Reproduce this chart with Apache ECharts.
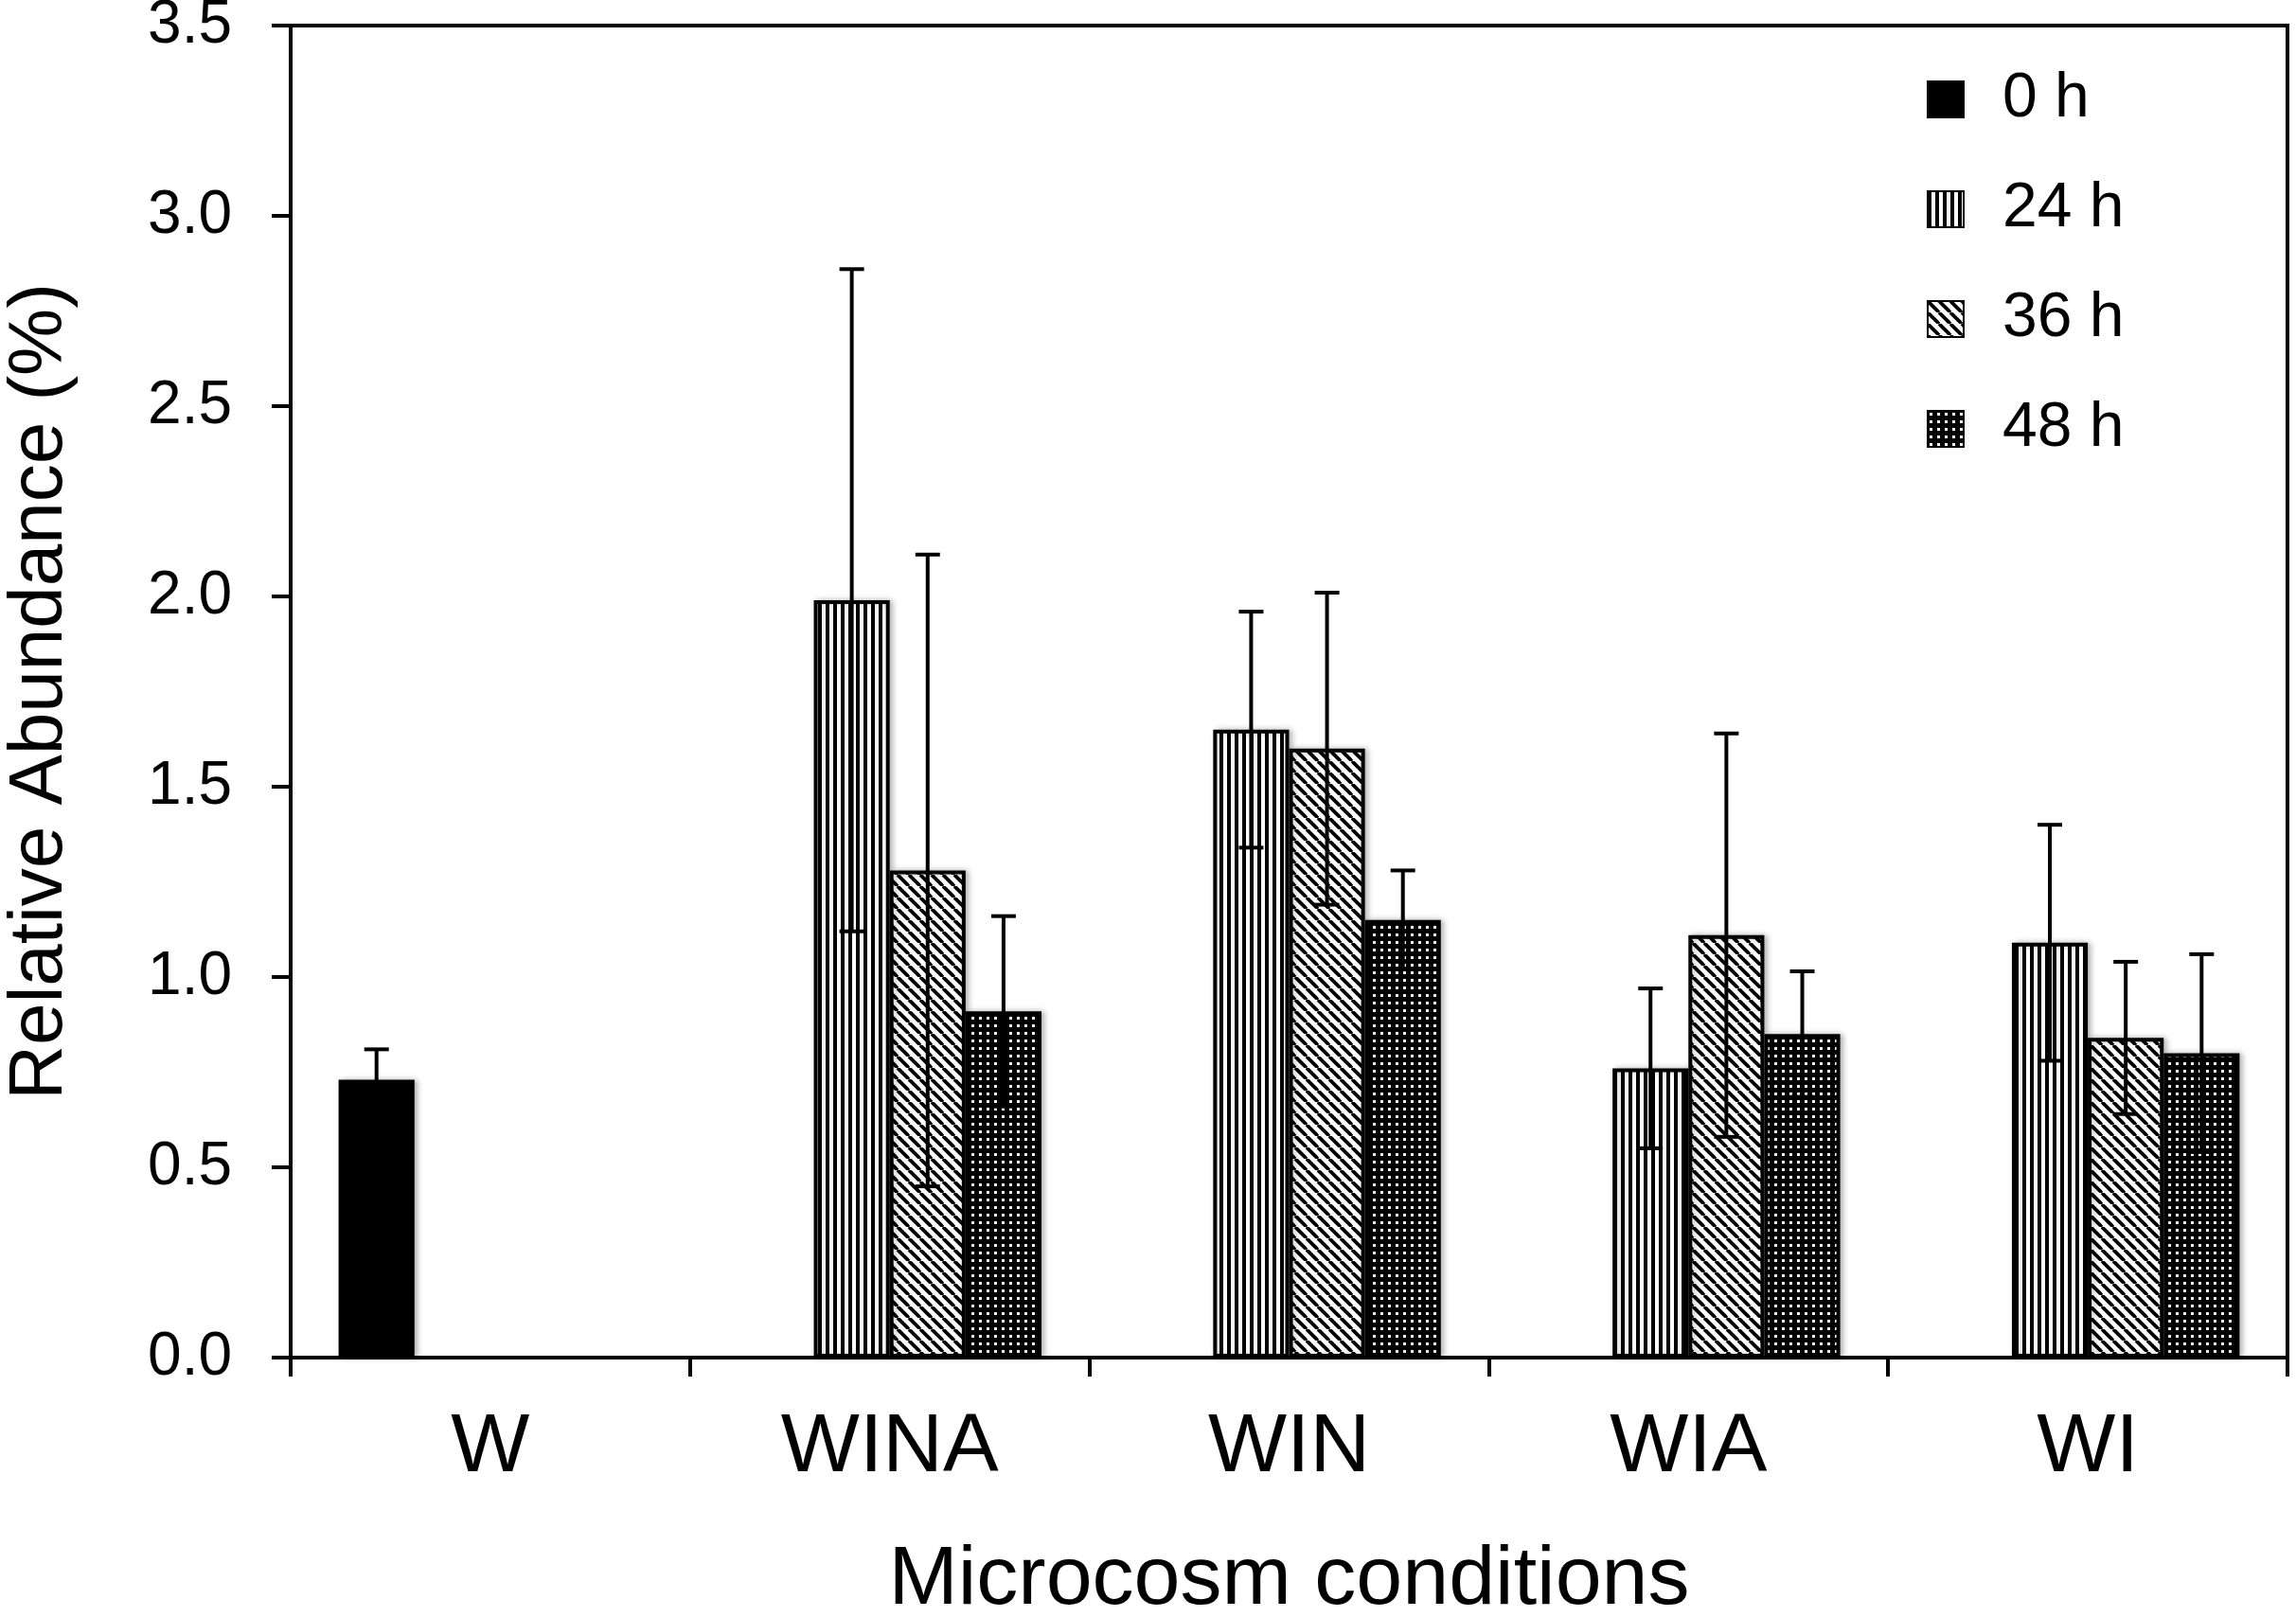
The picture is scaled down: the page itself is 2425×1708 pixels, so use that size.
<!DOCTYPE html>
<html>
<head>
<meta charset="utf-8">
<script src="https://cdn.jsdelivr.net/npm/echarts@6/dist/echarts.min.js"></script>
<style>
html,body{margin:0;padding:0;background:#fff;}
#chart{width:2425px;height:1708px;}
</style>
</head>
<body>
<div id="chart"></div>
<script>
// ---- Data ----
const categories = ['W', 'WINA', 'WIN', 'WIA', 'WI'];
const seriesNames = ['0 h', '24 h', '36 h', '48 h'];
const values0h  = [0.73, null, null, null, null];
const values24h = [null, 1.99, 1.65, 0.76, 1.09];
const values36h = [null, 1.28, 1.60, 1.11, 0.84];
const values48h = [null, 0.91, 1.15, 0.85, 0.80];
const err0h  = [0.08, null, null, null, null];
const err24h = [null, 0.87, 0.31, 0.21, 0.31];
const err36h = [null, 0.83, 0.41, 0.53, 0.20];
const err48h = [null, 0.25, 0.13, 0.165, 0.26];
const yTicks = ['0.0','0.5','1.0','1.5','2.0','2.5','3.0','3.5'];

const allValues = [values0h, values24h, values36h, values48h];
const allErrs = [err0h, err24h, err36h, err48h];

// ---- Patterns ----
function makeTile(w, h, draw) {
  const c = document.createElement('canvas');
  c.width = w; c.height = h;
  const ctx = c.getContext('2d');
  draw(ctx, w, h);
  return c;
}
const patVertical = makeTile(8, 8, (ctx, w, h) => {
  ctx.fillStyle = '#fff'; ctx.fillRect(0, 0, w, h);
  ctx.fillStyle = '#000'; ctx.fillRect(0, 0, 4, h);
});
const patDiag = makeTile(12, 12, (ctx, w, h) => {
  ctx.fillStyle = '#fff'; ctx.fillRect(0, 0, w, h);
  ctx.strokeStyle = '#000'; ctx.lineWidth = 3.8;
  for (let k = -w; k <= w; k += w) {
    ctx.beginPath(); ctx.moveTo(k, 0); ctx.lineTo(k + w, h); ctx.stroke();
  }
});
const patDots = makeTile(8, 8, (ctx, w, h) => {
  ctx.fillStyle = '#000'; ctx.fillRect(0, 0, w, h);
  ctx.fillStyle = '#fff'; ctx.fillRect(2, 2, 3, 3);
});
const fills = ['#000', {image: patVertical, repeat: 'repeat'}, {image: patDiag, repeat: 'repeat'}, {image: patDots, repeat: 'repeat'}];

const CAT_GAP = 0.24;
const N = 4;

const barSeries = seriesNames.map((name, i) => ({
  name: name,
  type: 'bar',
  data: allValues[i],
  barGap: '0%',
  barCategoryGap: (CAT_GAP * 100) + '%',
  itemStyle: {
    color: fills[i],
    borderColor: '#000',
    borderWidth: 4,
    shadowColor: 'rgba(0,0,0,0.25)',
    shadowBlur: 6,
    shadowOffsetX: 3
  },
  z: 2
}));

const errSeries = seriesNames.map((name, i) => ({
  name: name + ' err',
  type: 'custom',
  z: 5,
  silent: true,
  data: allValues[i].map((v, j) => v == null ? null : [j, v, allErrs[i][j]]).filter(d => d),
  renderItem: function (params, api) {
    const cat = api.value(0), v = api.value(1), e = api.value(2);
    const band = api.size([1, 0])[0];
    const total = band * (1 - CAT_GAP);
    const bw = total / N;
    const center = api.coord([cat, v]);
    const x = center[0] - total / 2 + bw * (i + 0.5);
    const yHi = api.coord([cat, v + e])[1];
    const yLo = api.coord([cat, v - e])[1];
    const cap = 13;
    const st = {stroke: '#000', lineWidth: 4};
    return {
      type: 'group',
      children: [
        {type: 'line', shape: {x1: x, y1: yLo, x2: x, y2: yHi}, style: st},
        {type: 'line', shape: {x1: x - cap, y1: yHi, x2: x + cap, y2: yHi}, style: st},
        {type: 'line', shape: {x1: x - cap, y1: yLo, x2: x + cap, y2: yLo}, style: st}
      ]
    };
  }
}));

const chart = echarts.init(document.getElementById('chart'), null, {renderer: 'canvas'});
chart.setOption({
  animation: false,
  backgroundColor: '#fff',
  grid: {
    left: 307, right: 9, top: 27, bottom: 274,
    outerBoundsMode: 'none',
    containLabel: false,
    show: true, borderColor: '#000', borderWidth: 4, backgroundColor: 'transparent'
  },
  legend: {
    data: seriesNames,
    orient: 'vertical',
    left: 2030, top: 67,
    icon: 'rect',
    itemWidth: 38, itemHeight: 38,
    itemGap: 50,
    textStyle: {fontFamily: 'Liberation Sans', fontSize: 66, color: '#000', padding: [0, 0, 0, 36]}
  },
  xAxis: {
    type: 'category',
    data: categories,
    axisLine: {lineStyle: {color: '#000', width: 4}},
    axisTick: {show: true, length: 20, lineStyle: {color: '#000', width: 4}},
    axisLabel: {fontFamily: 'Liberation Sans', fontSize: 88, color: '#000', margin: 52},
    name: 'Microcosm conditions',
    nameLocation: 'middle',
    nameGap: 192,
    nameTextStyle: {fontFamily: 'Liberation Sans', fontSize: 88, color: '#000'}
  },
  yAxis: {
    type: 'value',
    min: 0, max: 3.5, interval: 0.5,
    axisLine: {show: true, lineStyle: {color: '#000', width: 4}},
    axisTick: {show: true, length: 20, lineStyle: {color: '#000', width: 4}},
    splitLine: {show: false},
    axisLabel: {
      fontFamily: 'Liberation Sans', fontSize: 64, color: '#000', margin: 62,
      formatter: function (v) { return yTicks[Math.round(v / 0.5)]; }
    },
    name: 'Relative Abundance (%)',
    nameLocation: 'middle',
    nameGap: 224,
    nameTextStyle: {fontFamily: 'Liberation Sans', fontSize: 80, color: '#000'}
  },
  series: barSeries.concat(errSeries)
});
</script>
</body>
</html>
